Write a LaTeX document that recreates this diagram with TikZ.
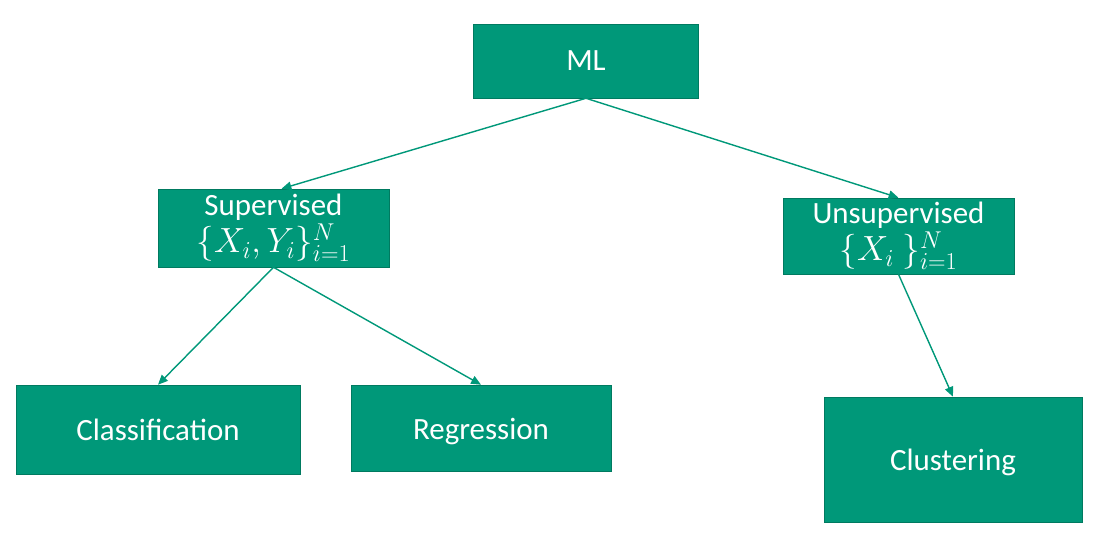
\documentclass[tikz,border=0pt]{standalone}
\usepackage{fontspec}
\setmainfont{Carlito}
\usetikzlibrary{arrows.meta}
\definecolor{mlgreen}{HTML}{009879}
\definecolor{mledge}{HTML}{007A60}
\newcommand{\mathline}[1]{{\fontsize{26}{28}\selectfont$#1$}}
\tikzset{
  box/.style={draw=mledge, fill=mlgreen, text=white, inner sep=0pt, align=center,
    font=\fontsize{22}{24}\selectfont},
  leaf/.style={box, text height=16pt, text depth=0pt},
  link/.style={draw=mlgreen, line width=1pt, -{Triangle[width=6pt,length=7pt]}}
}
\begin{document}
\begin{tikzpicture}[x=0.025cm, y=-0.025cm]
                \useasboundingbox (0,0) rectangle (1100,550);
                % top level
                \node[box, minimum width=225*0.025cm, minimum height=74*0.025cm] (ml) at (586,61) {ML};
                % second level
                \node[box, minimum width=231*0.025cm, minimum height=78*0.025cm] (sup) at (273.5,228)
                  {Supervised\\[1pt]\mathline{\{X_i,Y_i\}_{i=1}^N}};
                \node[box, minimum width=231*0.025cm, minimum height=76*0.025cm] (unsup) at (898.5,236)
                  {Unsupervised\\[1pt]\mathline{\{X_i\ \}_{i=1}^N}};
                % leaves
                \node[leaf, minimum width=284*0.025cm, minimum height=89*0.025cm] (cls) at (158,429.5) {Classification};
                \node[leaf, minimum width=260*0.025cm, minimum height=86*0.025cm] (reg) at (481,428) {Regression};
                \node[leaf, minimum width=258*0.025cm, minimum height=125*0.025cm] (clu) at (953,459.5) {Clustering};
                % arrows
                \draw[link] (ml.south) -- ([xshift=0.2cm]sup.north);
                \draw[link] (ml.south) -- (unsup.north);
                \draw[link] (sup.south) -- (cls.north);
                \draw[link] (sup.south) -- (reg.north);
                \draw[link] (unsup.south) -- (clu.north);
\end{tikzpicture}
\end{document}
